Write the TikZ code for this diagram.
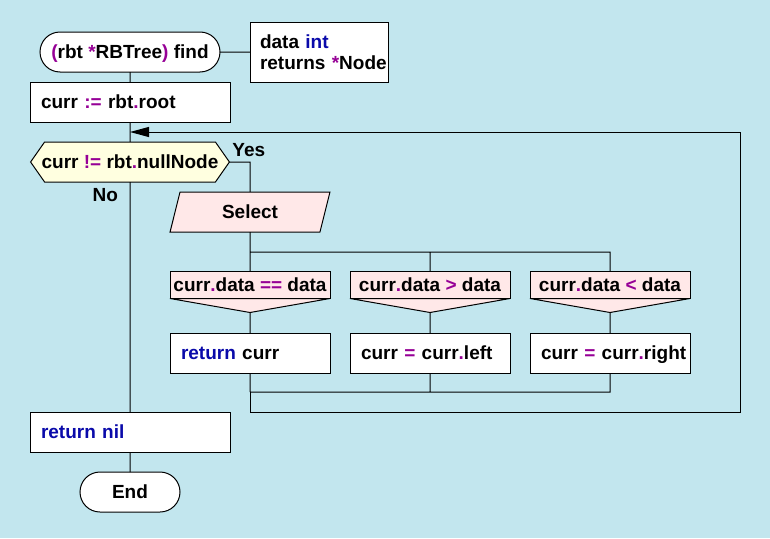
\documentclass[tikz,border=0pt]{standalone}
\usepackage{fontspec}
\setmainfont{Liberation Sans}
\usepackage{tikz}
\usetikzlibrary{arrows.meta,positioning,shapes.geometric,shapes.symbols}

\definecolor{backblue}{RGB}{194,230,238}
\definecolor{condyellow}{RGB}{255,255,224}
\definecolor{casepink}{RGB}{255,232,232}
\definecolor{oppurple}{RGB}{150,0,150}
\definecolor{kwblue}{RGB}{10,10,170}
\newcommand{\op}[1]{\textcolor{oppurple}{#1}}
\newcommand{\kw}[1]{\textcolor{kwblue}{#1}}

\begin{document}
\begin{tikzpicture}[x=1pt, y=-1pt, line width=1pt, auto,
    font=\fontsize{19}{21}\selectfont\bfseries,
    every node/.style={inner sep=0pt, outer sep=0pt},
    oneline/.style={text height=14pt, text depth=2pt},
    term/.style={draw, fill=white, rounded corners=20pt, minimum width=#1, minimum height=40pt, oneline},
    box/.style={draw, fill=white, minimum height=40pt, text width=#1, align=left, inner xsep=11pt, oneline},
    cond/.style={signal, signal to=west and east, signal pointer angle=110, draw, fill=condyellow,
        inner xsep=-3pt, minimum height=40pt, oneline},
    select/.style={trapezium, trapezium left angle=76, trapezium right angle=104, draw, fill=casepink,
        minimum width=140pt, minimum height=40pt, oneline},
    casebox/.style={draw, fill=casepink, minimum width=160pt, minimum height=27pt, oneline}]

    \path[use as bounding box, fill=backblue] (0,0) rectangle (770,538);

    \node[term=180pt] (start) at (130,52) {\op{(}rbt \op{*}RBTree\op{)} find};
    \node[draw, fill=white, text width=118pt, align=left, inner xsep=10pt, minimum height=60pt,
        right=30pt of start] (params) {\mbox{data \kw{int}}\\\mbox{returns \op{*}Node}};
    \node[box=178pt, below=10pt of start] (init) {curr \op{:=} rbt\op{.}root};
    \node[cond, below=20pt of init] (cond) {curr \op{!=} rbt\op{.}nullNode};
    \node[above right=5pt and 3pt of cond.east] (yes) {Yes};
    \node[below left=6pt and 12pt of cond.south] (no) {No};

    \node[select] (select) at (250,212) {Select};

    \node[casebox] (case1) at (250,285) {curr\op{.}data \op{==} data};
    \node[casebox] (case2) at (430,285) {curr\op{.}data \op{>} data};
    \node[casebox] (case3) at (610,285) {curr\op{.}data \op{<} data};
    \coordinate[below=14pt of case1] (tip1);
    \coordinate[below=14pt of case2] (tip2);
    \coordinate[below=14pt of case3] (tip3);

    \node[box=138pt] (act1) at (250,353) {\mbox{\kw{return} curr}};
    \node[box=138pt] (act2) at (430,353) {\mbox{curr \op{=} curr\op{.}left}};
    \node[box=138pt] (act3) at (610,353) {\mbox{curr \op{=} curr\op{.}right}};

    \node[box=178pt] (retnil) at (130,432) {\kw{return nil}};
    \node[term=100pt, below=20pt of retnil] (end) {End};

    \coordinate (split) at (250,252);
    \coordinate (merge) at (250,392);
    \coordinate (loopbr) at (740,412);
    \coordinate (back) at (130,132);

    \draw[fill=casepink] (case1.south west) -- (tip1) -- (case1.south east) -- cycle;
    \draw[fill=casepink] (case2.south west) -- (tip2) -- (case2.south east) -- cycle;
    \draw[fill=casepink] (case3.south west) -- (tip3) -- (case3.south east) -- cycle;

    \path [draw]
        (start) -- (params)
        (start) -- (init)
        (init) -- (cond)
        (cond) -- (retnil)
        (retnil) -- (end)
        (cond.east) -| (select.north)
        (select) -- (case1)
        (split) -| (case2)
        (split) -| (case3)
        (tip1) -- (act1)
        (tip2) -- (act2)
        (tip3) -- (act3)
        (act1) -- (merge)
        (act2) |- (merge)
        (act3) |- (merge)
    ;
    \draw[-{Triangle[length=19pt,width=10pt]}] (merge) |- (loopbr) |- (back);
\end{tikzpicture}
\end{document}
